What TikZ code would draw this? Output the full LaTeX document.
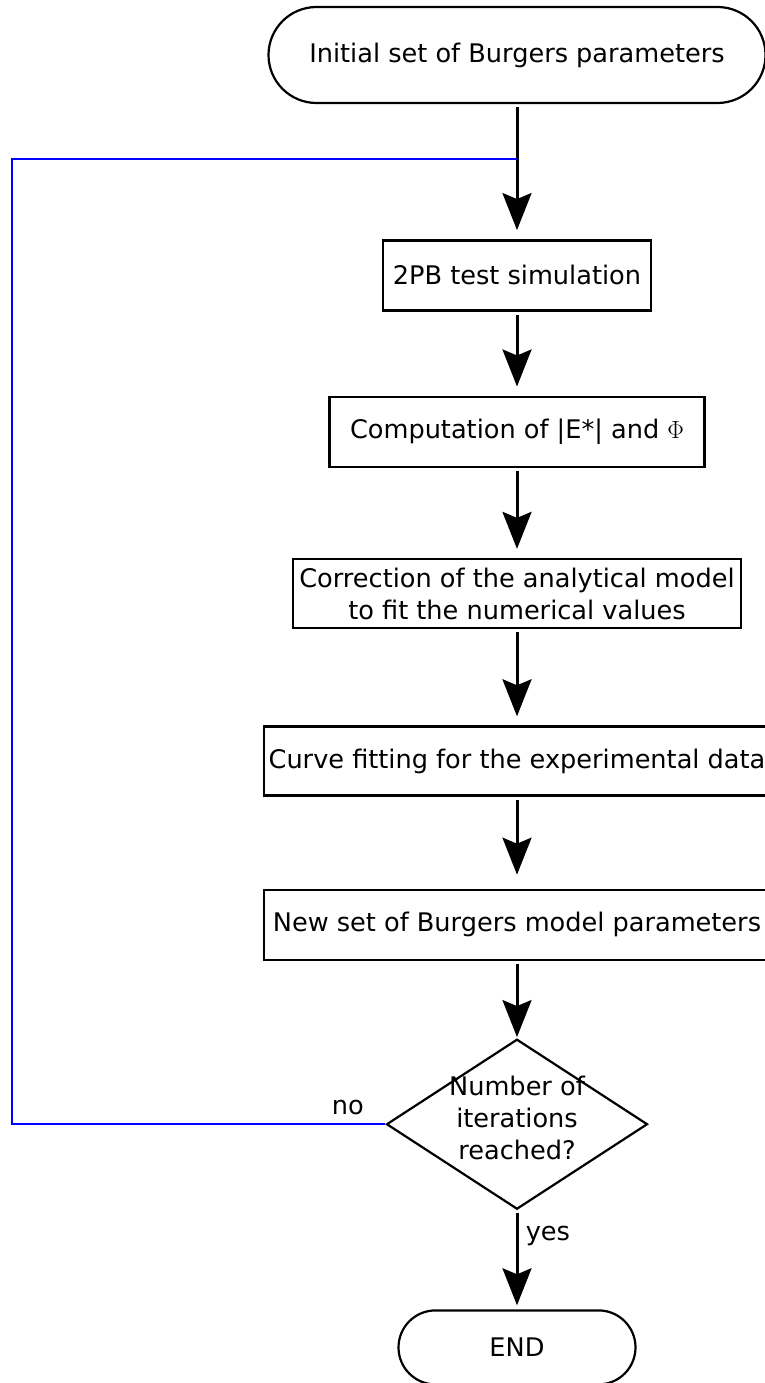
\documentclass[tikz,border=0pt]{standalone}
\usepackage{amsmath}
\usepackage{fontspec}
\setmainfont{DejaVu Sans}
\usetikzlibrary{shapes.geometric, arrows.meta, positioning}

\begin{document}
\begin{tikzpicture}[
    x=1pt, y=-1pt,
    font=\fontsize{25.6}{32}\selectfont,
    startstop/.style={rectangle, draw=black, line width=2.2pt, rounded corners=#1, align=center, inner sep=2pt},
    process/.style={rectangle, draw=black, line width=2.4pt, minimum height=70pt, align=center, inner sep=2pt},
    decision/.style={diamond, draw=black, line width=2.2pt, minimum width=261pt, minimum height=170pt, inner sep=0pt},
    arrow/.style={-{Stealth[length=37pt, width=29pt, inset=6pt]}, line width=3pt, shorten <=3pt, shorten >=9pt},
    feedback/.style={draw=blue, line width=2.2pt}
]
    \clip (0,0) rectangle (765,1383);

    \node (start) [startstop=48pt, minimum width=497pt, minimum height=96pt] at (517,55) {Initial set of Burgers parameters};
    \node (sim) [process, minimum width=268pt, below=135pt of start] {2PB test simulation};
    \node (comp) [process, minimum width=375pt, below=84pt of sim] {Computation of |E*| and $\Phi$};
    \node (corr) [process, minimum width=448pt, minimum height=69pt, below=90pt of comp] {Correction of the analytical model\\to fit the numerical values};
    \node (fit) [process, minimum width=506pt, minimum height=69pt, below=96pt of corr] {Curve fitting for the experimental data};
    \node (newpar) [process, minimum width=506pt, below=92pt of fit] {New set of Burgers model parameters};
    \node (dec) [decision, below=77pt of newpar] {\smash{\parbox[c]{170pt}{\centering Number of\\iterations\\reached?}}};
    \node (endn) [startstop=37pt, minimum width=237pt, minimum height=74pt, below=99pt of dec] {END};

    \draw[arrow] (start) -- (sim);
    \draw[arrow] (sim) -- (comp);
    \draw[arrow] (comp) -- (corr);
    \draw[arrow] (corr) -- (fit);
    \draw[arrow, shorten >=14pt] (fit) -- (newpar);
    \draw[arrow, shorten >=1pt] (newpar) -- (dec);
    \draw[arrow, shorten >=4pt] (dec) -- node[right=4pt, pos=0.26] (yes) {yes} (endn);

    % loop back when the iterations are not reached
    \coordinate (fb) at (517,159);
    \coordinate (lft) at (12,159);
    \draw[feedback] (dec.west) -| (lft) -- (fb);
    \node (no) [above left=6pt and 18pt of dec.west] {no};
\end{tikzpicture}
\end{document}
